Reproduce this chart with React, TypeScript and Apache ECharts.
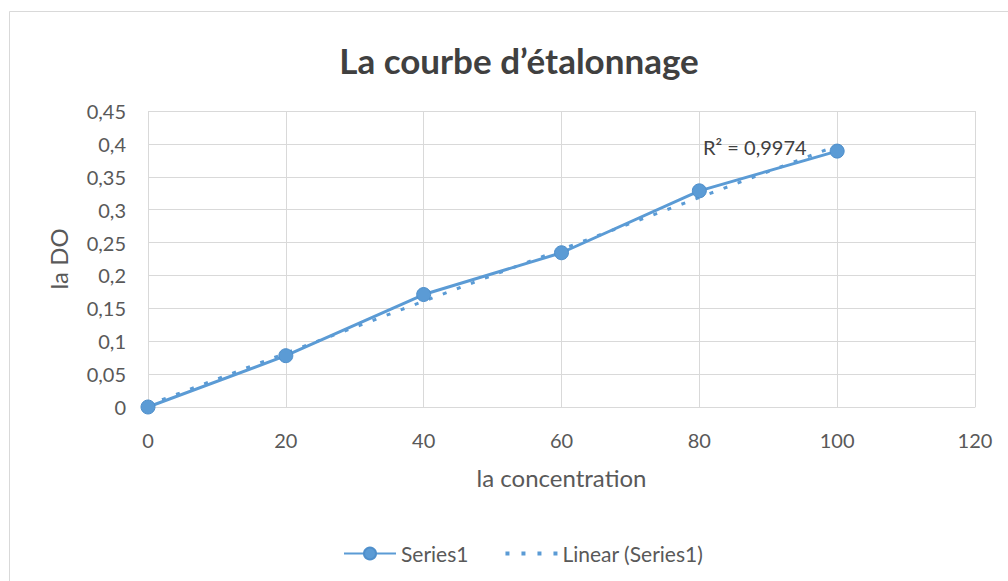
import React, { useEffect, useRef } from "react";
import * as echarts from "echarts";

const concentrations = [0, 20, 40, 60, 80, 100];
const absorbances = [0, 0.078, 0.171, 0.2345, 0.3286, 0.389];
const xTicks = [0, 20, 40, 60, 80, 100, 120];
const yTicks = [0, 0.05, 0.1, 0.15, 0.2, 0.25, 0.3, 0.35, 0.4, 0.45];
const r2Label = "R² = 0,9974";

function linearFit(xs: number[], ys: number[]) {
  const n = xs.length;
  const mx = xs.reduce((a, b) => a + b, 0) / n;
  const my = ys.reduce((a, b) => a + b, 0) / n;
  let sxy = 0;
  let sxx = 0;
  for (let i = 0; i < n; i++) {
    sxy += (xs[i] - mx) * (ys[i] - my);
    sxx += (xs[i] - mx) * (xs[i] - mx);
  }
  const slope = sxy / sxx;
  return { slope, intercept: my - slope * mx };
}

const FONT = "Lato";
const BLUE = "#5B9BD5";

export default function App() {
  const ref = useRef<HTMLDivElement>(null);
  useEffect(() => {
    document.body.style.margin = "0";
    const chart = echarts.init(ref.current!, null, { renderer: "svg" });
    const fit = linearFit(concentrations, absorbances);
    const x0 = concentrations[0];
    const x1 = concentrations[concentrations.length - 1];
    const trend = [
      [x0, fit.intercept + fit.slope * x0],
      [x1, fit.intercept + fit.slope * x1],
    ];
    chart.setOption({
      animation: false,
      backgroundColor: "#ffffff",
      textStyle: { fontFamily: FONT },
      title: {
        text: "La courbe d’étalonnage",
        left: 514,
        textAlign: "center",
        top: 37,
        textStyle: { fontFamily: FONT, fontSize: 35, fontWeight: "bold", color: "#404040" },
      },
      graphic: [
        {
          type: "rect",
          shape: { x: 9.5, y: 11.5, width: 1010, height: 600 },
          style: { fill: "none", stroke: "#d9d9d9", lineWidth: 1 },
          silent: true,
          z: -1,
        },
        {
          type: "text",
          left: 703,
          top: 137,
          style: { text: r2Label, font: `20px ${FONT}`, fill: "#404040" },
          z: 10,
        },
      ],
      grid: { left: 148, top: 111, right: 33, bottom: 174 },
      xAxis: {
        type: "value",
        min: xTicks[0],
        max: xTicks[xTicks.length - 1],
        interval: xTicks[1] - xTicks[0],
        name: "la concentration",
        nameLocation: "middle",
        nameGap: 58,
        nameTextStyle: { fontFamily: FONT, fontSize: 24, color: "#595959" },
        axisLine: { show: true, lineStyle: { color: "#d9d9d9", width: 1 } },
        axisTick: { show: false },
        axisLabel: { fontFamily: FONT, fontSize: 20, color: "#595959", margin: 23 },
        splitLine: { show: true, lineStyle: { color: "#d9d9d9", width: 1 } },
      },
      yAxis: {
        type: "value",
        min: yTicks[0],
        max: yTicks[yTicks.length - 1],
        interval: yTicks[1] - yTicks[0],
        name: "la DO",
        nameLocation: "middle",
        nameGap: 78,
        nameRotate: 90,
        nameTextStyle: { fontFamily: FONT, fontSize: 24, color: "#595959" },
        axisLine: { show: false },
        axisTick: { show: false },
        axisLabel: {
          fontFamily: FONT,
          fontSize: 20,
          color: "#595959",
          margin: 22,
          formatter: (v: number) => String(Math.round(v * 100) / 100).replace(".", ","),
        },
        splitLine: { show: true, lineStyle: { color: "#d9d9d9", width: 1 } },
      },
      legend: {
        top: 538,
        left: 338,
        itemWidth: 52,
        itemHeight: 15,
        itemGap: 35,
        textStyle: { fontFamily: FONT, fontSize: 21, color: "#595959" },
        data: [
          { name: "Series1" },
          {
            name: "Linear (Series1)",
            itemStyle: { opacity: 0 },
            lineStyle: { type: [4, 12], width: 4 },
          },
        ],
      },
      series: [
        {
          name: "Linear (Series1)",
          type: "line",
          data: trend,
          symbol: "none",
          lineStyle: { color: BLUE, width: 3, type: [4, 11] },
          itemStyle: { color: BLUE },
          z: 3,
        },
        {
          name: "Series1",
          type: "line",
          data: concentrations.map((x, i) => [x, absorbances[i]]),
          symbol: "circle",
          symbolSize: 14,
          lineStyle: { color: BLUE, width: 3 },
          itemStyle: { color: BLUE, borderColor: "#4f8fcb", borderWidth: 1 },
          z: 4,
        },
      ],
    });
    return () => chart.dispose();
  }, []);
  return <div ref={ref} style={{ width: 1008, height: 581 }} />;
}
